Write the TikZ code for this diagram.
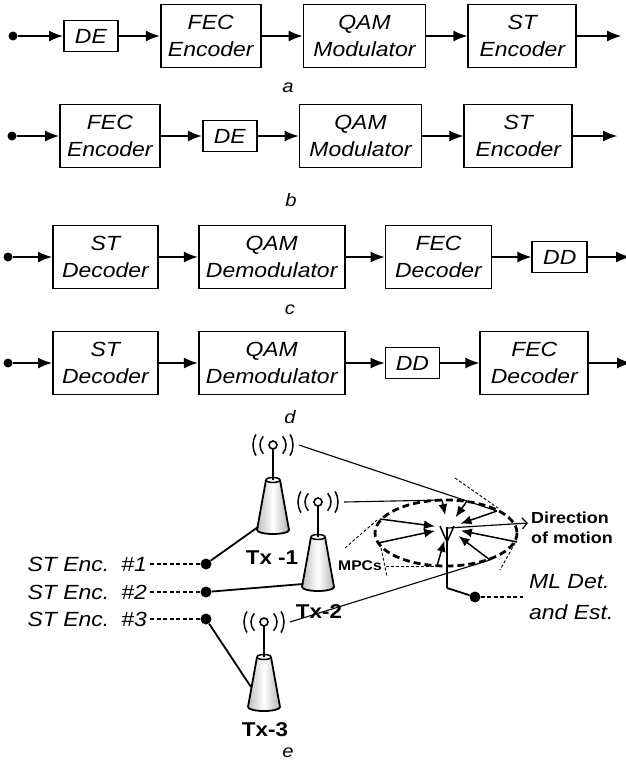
\documentclass[tikz,border=0pt]{standalone}
\usepackage{fontspec}
\setmainfont{Liberation Sans}[FakeStretch=1.12]
\usepackage{tikz}
\usetikzlibrary{arrows.meta, positioning, calc}
\definecolor{towergray}{HTML}{8C8C8C}

\tikzset{
  tower/.pic={
    \fill[white] (-16,0) -- (-7,-50) -- (7,-50) -- (16,0)
      arc[start angle=0, end angle=180, x radius=16, y radius=4] -- cycle;
    \shade[left color=towergray!55, right color=towergray!65, middle color=white]
      (-16,0) -- (-7,-50) -- (7,-50) -- (16,0)
      arc[start angle=0, end angle=180, x radius=16, y radius=4] -- cycle;
    \draw[line width=1.8pt, line join=round]
      (-16,0) -- (-7,-50) (7,-50) -- (16,0)
      arc[start angle=0, end angle=180, x radius=16, y radius=4];
    \draw[line width=1.5pt, fill=white] (0,-50) ellipse[x radius=7, y radius=2.5];
    \draw[line width=2.2pt] (0,-50) -- (0,-81);
    \draw[line width=1.6pt, fill=white] (0,-85) circle[radius=4];
    \foreach \rad/\ang in {13/42, 20/32} {
      \draw[line width=1.5pt] (0,-85) ++(180-\ang:\rad) arc[start angle=180-\ang, end angle=180+\ang, radius=\rad];
      \draw[line width=1.5pt] (0,-85) ++(-\ang:\rad) arc[start angle=-\ang, end angle=\ang, radius=\rad];
    }
    \coordinate (-bl) at (-15,-3);
    \coordinate (-side) at (-13,-20);
    \coordinate (-sig) at (26,-85);
  }
}

\begin{document}
\begin{tikzpicture}[x=1pt, y=-1pt,
  blk/.style={draw, line width=1.8pt, minimum height=63pt, align=center, inner sep=2pt,
    font=\itshape\fontsize{20.5}{26.5}\selectfont},
  smallblk/.style={blk, minimum height=31pt, minimum width=54pt},
  bigdot/.style={circle, fill=black, inner sep=0pt, minimum size=9pt},
  sig/.style={line width=1.5pt, -{Latex[length=14pt, width=11pt]}},
  caption/.style={font=\itshape\fontsize{18}{20}\selectfont},
  enc/.style={font=\itshape\fontsize{20.5}{26}\selectfont, inner sep=3pt},
  txlbl/.style={font=\bfseries\fontsize{20}{24}\selectfont, inner sep=0pt},
  encline/.style={line width=1.3pt, dash pattern=on 4pt off 2.5pt},
  wire/.style={line width=1.8pt},
  radio/.style={line width=1.1pt},
  ring/.style={line width=2.8pt, dash pattern=on 7pt off 4pt},
  mpcline/.style={line width=0.9pt, dash pattern=on 3pt off 2pt},
  ray/.style={line width=1.5pt, -{Latex[length=11pt, width=9pt]}},
  motion/.style={line width=1.2pt, -{Straight Barb[length=5pt, width=11pt]}}
]
\useasboundingbox (0,0) rectangle (625,764);

% (a) DE before FEC
\node[bigdot] (inA) at (13,36) {};
\node[smallblk, anchor=west] (deA) at (63,36) {DE};
\node[blk, minimum width=100pt, right=41pt of deA] (fecA) {FEC\\Encoder};
\node[blk, minimum width=122pt, right=41pt of fecA] (qamA) {QAM\\Modulator};
\node[blk, minimum width=108pt, right=41pt of qamA] (stA) {ST\\Encoder};
\coordinate[right=44pt of stA] (outA);
\foreach \u/\v in {inA/deA, deA/fecA, fecA/qamA, qamA/stA, stA/outA}
  \draw[sig] (\u) -- (\v);
\node[caption] at (288,88) {a};

% (b) DE after FEC
\node[bigdot] (inB) at (12,136) {};
\node[blk, minimum width=100pt, anchor=west] (fecB) at (59,136) {FEC\\Encoder};
\node[smallblk, right=41pt of fecB] (deB) {DE};
\node[blk, minimum width=122pt, right=41pt of deB] (qamB) {QAM\\Modulator};
\node[blk, minimum width=108pt, right=41pt of qamB] (stB) {ST\\Encoder};
\coordinate[right=44pt of stB] (outB);
\foreach \u/\v in {inB/fecB, fecB/deB, deB/qamB, qamB/stB, stB/outB}
  \draw[sig] (\u) -- (\v);
\node[caption] at (291,200) {b};

% (c) DD after FEC
\node[bigdot] (inC) at (8,257) {};
\node[blk, minimum width=105pt, anchor=west] (stC) at (52,257) {ST\\Decoder};
\node[blk, minimum width=146pt, right=39pt of stC] (qamC) {QAM\\Demodulator};
\node[blk, minimum width=106pt, right=39pt of qamC] (fecC) {FEC\\Decoder};
\node[smallblk, minimum width=55pt, right=39pt of fecC] (ddC) {DD};
\coordinate[right=42pt of ddC] (outC);
\foreach \u/\v in {inC/stC, stC/qamC, qamC/fecC, fecC/ddC, ddC/outC}
  \draw[sig] (\u) -- (\v);
\node[caption] at (290,310) {c};

% (d) DD before FEC
\node[bigdot] (inD) at (8,363) {};
\node[blk, minimum width=105pt, anchor=west] (stD) at (52,363) {ST\\Decoder};
\node[blk, minimum width=146pt, right=39pt of stD] (qamD) {QAM\\Demodulator};
\node[smallblk, right=39pt of qamD] (ddD) {DD};
\node[blk, minimum width=108pt, right=39pt of ddD] (fecD) {FEC\\Decoder};
\coordinate[right=42pt of fecD] (outD);
\foreach \u/\v in {inD/stD, stD/qamD, qamD/ddD, ddD/fecD, fecD/outD}
  \draw[sig] (\u) -- (\v);
\node[caption] at (290,417) {d};

% (e) three transmitters, moving receiver
\draw[ring] (446,533) ellipse[x radius=71, y radius=33];
\draw[mpcline] (345,548) -- (377,520);
\draw[mpcline] (380,543) -- (387,577);
\draw[mpcline] (455,478) -- (498,508);
\draw[mpcline] (515,543) -- (500,570);

\pic (tx1) at (273,530) {tower};
\pic (tx2) at (318,587) {tower};
\pic (tx3) at (264,707) {tower};
\node[txlbl] (lbl1) at (272,558) {Tx -1};
\node[txlbl] (lbl2) at (319,612) {Tx-2};
\node[txlbl] (lbl3) at (265,730) {Tx-3};

\node[enc, anchor=east] (enc1) at (150,564) {ST Enc.\hspace{12pt}\#1};
\node[enc, anchor=east] (enc2) at (150,592) {ST Enc.\hspace{12pt}\#2};
\node[enc, anchor=east] (enc3) at (150,619) {ST Enc.\hspace{12pt}\#3};
\node[bigdot, minimum size=11pt] (d1) at (206,564) {};
\node[bigdot, minimum size=11pt] (d2) at (206,592) {};
\node[bigdot, minimum size=11pt] (d3) at (206,619) {};
\foreach \i in {1,2,3}
  \draw[encline] (enc\i) -- (d\i);
\draw[wire] (d1) -- (tx1-bl);
\draw[wire] (d2) -- (tx2-bl);
\draw[wire] (d3) -- (tx3-side);

% scatterers on the ring
\coordinate (s1) at (442,500);
\coordinate (s2) at (467,501);
\coordinate (s3) at (497,511);
\coordinate (s4) at (517,542);
\coordinate (s5) at (490,560);
\coordinate (s6) at (380,519);
\coordinate (s7) at (378,543);
\coordinate (s8) at (437,566);

\draw[radio] (tx1-sig) -- (s3);
\draw[radio] (tx2-sig) -- (s1);
\draw[radio] (tx3-sig) -- (s5);

% receiver
\node[circle, inner sep=0pt, minimum size=26pt] (rx) at (448,528) {};
\coordinate (rxfoot) at (447,588);
\coordinate (rxtop) at (447,527);
\coordinate (rxfork) at (447,542);
\draw[wire] (rxfoot) -- (rxtop);
\draw[line width=1.5pt] (rxfork) -- ++(-7,-16) (rxfork) -- ++(7,-16);
\foreach \s in {s1,s2,s3,s4,s5,s6,s7,s8}
  \draw[ray] (\s) -- (rx);

\node[font=\bfseries\fontsize{14}{16}\selectfont, inner sep=4pt] (mpc) at (360,566) {MPCs};
\draw[mpcline] (mpc) -- (s8);

\coordinate (dirtip) at (528,523);
\draw[motion] (rx.center) -- (dirtip);
\node[font=\bfseries\fontsize{16}{20}\selectfont, align=left, anchor=west, inner sep=1pt] (dir) at (530,528) {Direction\\of motion};

\node[bigdot, minimum size=11pt] (rxdot) at (475,597) {};
\draw[wire] (rxfoot) -- (rxdot);
\coordinate (mlend) at (523,597);
\draw[encline] (rxdot) -- (mlend);
\node[enc, font=\itshape\fontsize{20.5}{31}\selectfont, align=left, anchor=west, inner sep=1pt] (ml) at (528,597) {ML Det.\\and Est.};

\node[caption] at (288,753) {e};
\end{tikzpicture}
\end{document}
